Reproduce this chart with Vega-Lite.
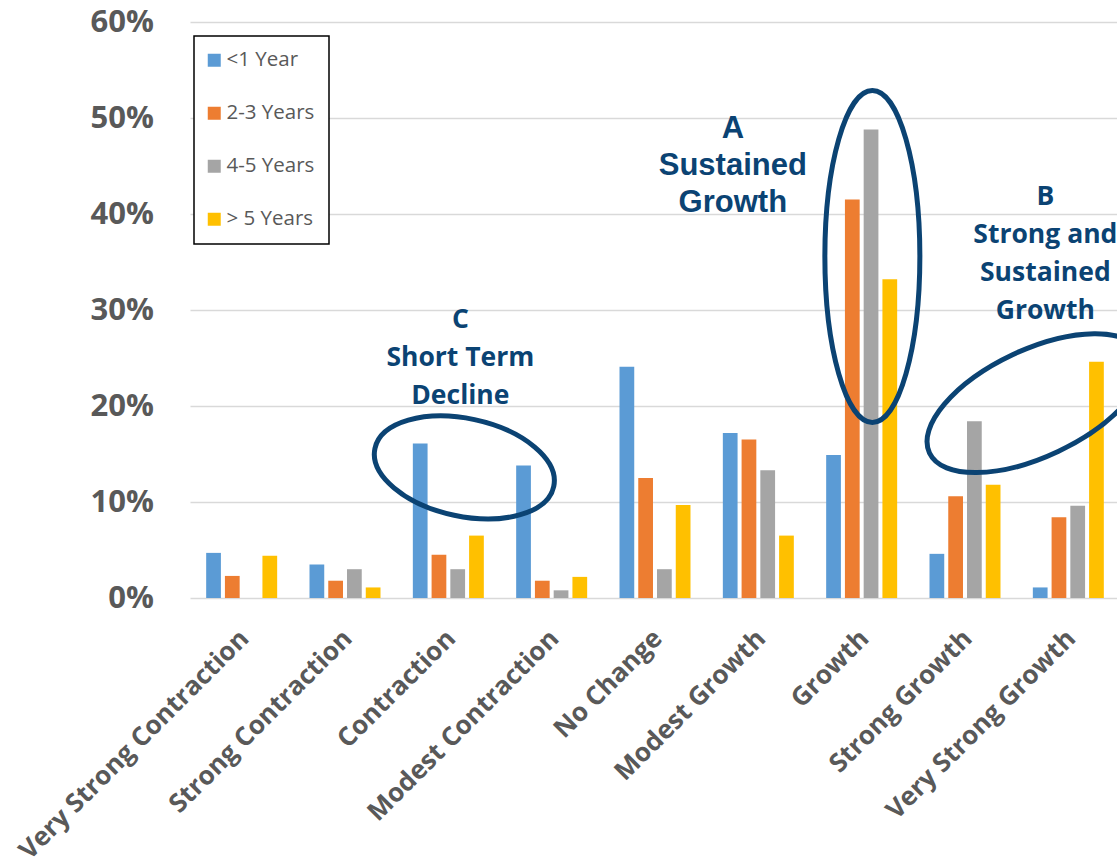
{
  "$schema": "https://vega.github.io/schema/vega-lite/v6.json",
  "autosize": {"type": "none"},
  "width": 927,
  "height": 576,
  "padding": {"left": 190, "top": 22, "right": 0, "bottom": 264},
  "background": "white",
  "config": {"view": {"stroke": null}, "font": "Open Sans"},
  "datasets": {
    "responses": [
      {"outlook": "Very Strong Contraction", "horizon": "<1 Year", "share": 0.047},
      {"outlook": "Very Strong Contraction", "horizon": "2-3 Years", "share": 0.023},
      {"outlook": "Very Strong Contraction", "horizon": "4-5 Years", "share": 0.0},
      {"outlook": "Very Strong Contraction", "horizon": "> 5 Years", "share": 0.044},
      {"outlook": "Strong Contraction", "horizon": "<1 Year", "share": 0.035},
      {"outlook": "Strong Contraction", "horizon": "2-3 Years", "share": 0.018},
      {"outlook": "Strong Contraction", "horizon": "4-5 Years", "share": 0.030},
      {"outlook": "Strong Contraction", "horizon": "> 5 Years", "share": 0.011},
      {"outlook": "Contraction", "horizon": "<1 Year", "share": 0.161},
      {"outlook": "Contraction", "horizon": "2-3 Years", "share": 0.045},
      {"outlook": "Contraction", "horizon": "4-5 Years", "share": 0.030},
      {"outlook": "Contraction", "horizon": "> 5 Years", "share": 0.065},
      {"outlook": "Modest Contraction", "horizon": "<1 Year", "share": 0.138},
      {"outlook": "Modest Contraction", "horizon": "2-3 Years", "share": 0.018},
      {"outlook": "Modest Contraction", "horizon": "4-5 Years", "share": 0.008},
      {"outlook": "Modest Contraction", "horizon": "> 5 Years", "share": 0.022},
      {"outlook": "No Change", "horizon": "<1 Year", "share": 0.241},
      {"outlook": "No Change", "horizon": "2-3 Years", "share": 0.125},
      {"outlook": "No Change", "horizon": "4-5 Years", "share": 0.030},
      {"outlook": "No Change", "horizon": "> 5 Years", "share": 0.097},
      {"outlook": "Modest Growth", "horizon": "<1 Year", "share": 0.172},
      {"outlook": "Modest Growth", "horizon": "2-3 Years", "share": 0.165},
      {"outlook": "Modest Growth", "horizon": "4-5 Years", "share": 0.133},
      {"outlook": "Modest Growth", "horizon": "> 5 Years", "share": 0.065},
      {"outlook": "Growth", "horizon": "<1 Year", "share": 0.149},
      {"outlook": "Growth", "horizon": "2-3 Years", "share": 0.415},
      {"outlook": "Growth", "horizon": "4-5 Years", "share": 0.488},
      {"outlook": "Growth", "horizon": "> 5 Years", "share": 0.332},
      {"outlook": "Strong Growth", "horizon": "<1 Year", "share": 0.046},
      {"outlook": "Strong Growth", "horizon": "2-3 Years", "share": 0.106},
      {"outlook": "Strong Growth", "horizon": "4-5 Years", "share": 0.184},
      {"outlook": "Strong Growth", "horizon": "> 5 Years", "share": 0.118},
      {"outlook": "Very Strong Growth", "horizon": "<1 Year", "share": 0.011},
      {"outlook": "Very Strong Growth", "horizon": "2-3 Years", "share": 0.084},
      {"outlook": "Very Strong Growth", "horizon": "4-5 Years", "share": 0.096},
      {"outlook": "Very Strong Growth", "horizon": "> 5 Years", "share": 0.246}
    ]
  },
  "layer": [
    {
      "data": {"name": "responses"},
      "mark": {"type": "bar"},
      "encoding": {
        "x": {
          "field": "outlook",
          "type": "nominal",
          "sort": ["Very Strong Contraction", "Strong Contraction", "Contraction", "Modest Contraction", "No Change", "Modest Growth", "Growth", "Strong Growth", "Very Strong Growth"],
          "scale": {"range": [0, 930], "paddingInner": 0.313, "paddingOuter": 0.1565},
          "title": null,
          "axis": {
            "domain": false,
            "ticks": false,
            "labelAngle": -45,
            "labelAlign": "right",
            "labelBaseline": "middle",
            "labelFont": "Open Sans",
            "labelFontSize": 26,
            "labelFontWeight": "bold",
            "labelColor": "#595959",
            "labelPadding": 36,
            "labelOffset": 3,
            "labelLimit": 600,
            "labelOverlap": false
          }
        },
        "xOffset": {
          "field": "horizon",
          "type": "nominal",
          "sort": ["<1 Year", "2-3 Years", "4-5 Years", "> 5 Years"],
          "scale": {"paddingInner": 0.214, "paddingOuter": 0}
        },
        "y": {
          "field": "share",
          "type": "quantitative",
          "scale": {"domain": [0, 0.6]},
          "title": null,
          "axis": {
            "format": ".0%",
            "values": [0, 0.1, 0.2, 0.3, 0.4, 0.5, 0.6],
            "domain": false,
            "ticks": false,
            "gridColor": "#D9D9D9",
            "gridWidth": 1.5,
            "labelFont": "Open Sans",
            "labelFontSize": 31,
            "labelFontWeight": "bold",
            "labelColor": "#595959",
            "labelPadding": 36.5
          }
        },
        "color": {
          "field": "horizon",
          "type": "nominal",
          "sort": ["<1 Year", "2-3 Years", "4-5 Years", "> 5 Years"],
          "scale": {
            "domain": ["<1 Year", "2-3 Years", "4-5 Years", "> 5 Years"],
            "range": ["#5B9BD5", "#ED7D31", "#A5A5A5", "#FFC000"]
          },
          "legend": {
            "orient": "none",
            "legendX": 4,
            "legendY": 14,
            "title": null,
            "direction": "vertical",
            "symbolType": "square",
            "symbolSize": 169,
            "symbolStrokeWidth": 0,
            "symbolOffset": -4,
            "labelFont": "Open Sans",
            "labelFontSize": 20.5,
            "labelColor": "#595959",
            "labelOffset": 2,
            "rowPadding": 32,
            "padding": 14,
            "strokeColor": "#000000",
            "fillColor": "#FFFFFF",
            "encode": {"legend": {"update": {"strokeWidth": {"value": 1.5}}}}
          }
        }
      }
    },
    {
      "data": {"values": [{"outlook": "Growth", "share": 0.3557}]},
      "mark": {
        "type": "point",
        "shape": "M 0.582 0 C 0.582 0.9168 0.3693 1.66 0.107 1.66 C -0.1553 1.66 -0.368 0.9168 -0.368 0 C -0.368 -0.9168 -0.1553 -1.66 0.107 -1.66 C 0.3693 -1.66 0.582 -0.9168 0.582 0 Z",
        "size": 40000,
        "filled": false,
        "opacity": 1,
        "stroke": "#0B4373",
        "strokeWidth": 5
      },
      "encoding": {
        "x": {"field": "outlook", "type": "nominal", "sort": ["Very Strong Contraction", "Strong Contraction", "Contraction", "Modest Contraction", "No Change", "Modest Growth", "Growth", "Strong Growth", "Very Strong Growth"]},
        "y": {"field": "share", "type": "quantitative", "scale": {"domain": [0, 0.6]}}
      }
    },
    {
      "data": {"values": [{"outlook": "Contraction", "share": 0.136}]},
      "mark": {
        "type": "point",
        "shape": "M 1.054 0.19 C 0.9978 0.4542 0.5521 0.5832 0.0583 0.4783 C -0.4355 0.3734 -0.7902 0.0742 -0.734 -0.19 C -0.6778 -0.4542 -0.2321 -0.5832 0.2617 -0.4783 C 0.7555 -0.3734 1.1102 -0.0742 1.054 0.19 Z",
        "size": 40000,
        "filled": false,
        "opacity": 1,
        "stroke": "#0B4373",
        "strokeWidth": 5
      },
      "encoding": {
        "x": {"field": "outlook", "type": "nominal", "sort": ["Very Strong Contraction", "Strong Contraction", "Contraction", "Modest Contraction", "No Change", "Modest Growth", "Growth", "Strong Growth", "Very Strong Growth"]},
        "y": {"field": "share", "type": "quantitative", "scale": {"domain": [0, 0.6]}}
      }
    },
    {
      "data": {"values": [{"outlook": "Very Strong Growth", "share": 0.203}]},
      "mark": {
        "type": "point",
        "shape": "M 0.7286 -0.4982 C 0.8544 -0.2308 0.4825 0.2089 -0.1022 0.4841 C -0.6869 0.7593 -1.2628 0.7656 -1.3886 0.4982 C -1.5144 0.2308 -1.1425 -0.2089 -0.5578 -0.4841 C 0.0269 -0.7593 0.6028 -0.7656 0.7286 -0.4982 Z",
        "size": 40000,
        "filled": false,
        "opacity": 1,
        "stroke": "#0B4373",
        "strokeWidth": 5
      },
      "encoding": {
        "x": {"field": "outlook", "type": "nominal", "sort": ["Very Strong Contraction", "Strong Contraction", "Contraction", "Modest Contraction", "No Change", "Modest Growth", "Growth", "Strong Growth", "Very Strong Growth"]},
        "y": {"field": "share", "type": "quantitative", "scale": {"domain": [0, 0.6]}}
      }
    },
    {
      "data": {"values": [{"outlook": "Modest Growth", "share": 0.4795, "note": "A\nSustained\nGrowth"}]},
      "mark": {
        "type": "text",
        "font": "Liberation Sans",
        "fontWeight": "bold",
        "fontSize": 31,
        "lineHeight": 37,
        "lineBreak": "\n",
        "align": "center",
        "baseline": "alphabetic",
        "dx": -25.5,
        "color": "#0B4373"
      },
      "encoding": {
        "x": {"field": "outlook", "type": "nominal", "sort": ["Very Strong Contraction", "Strong Contraction", "Contraction", "Modest Contraction", "No Change", "Modest Growth", "Growth", "Strong Growth", "Very Strong Growth"]},
        "y": {"field": "share", "type": "quantitative", "scale": {"domain": [0, 0.6]}},
        "text": {"field": "note", "type": "nominal"}
      }
    },
    {
      "data": {"values": [{"outlook": "Contraction", "share": 0.281, "note": "C\nShort Term\nDecline"}]},
      "mark": {
        "type": "text",
        "font": "Open Sans",
        "fontWeight": "bold",
        "fontSize": 26.5,
        "lineHeight": 38,
        "lineBreak": "\n",
        "align": "center",
        "baseline": "alphabetic",
        "dx": 12,
        "color": "#0B4373"
      },
      "encoding": {
        "x": {"field": "outlook", "type": "nominal", "sort": ["Very Strong Contraction", "Strong Contraction", "Contraction", "Modest Contraction", "No Change", "Modest Growth", "Growth", "Strong Growth", "Very Strong Growth"]},
        "y": {"field": "share", "type": "quantitative", "scale": {"domain": [0, 0.6]}},
        "text": {"field": "note", "type": "nominal"}
      }
    },
    {
      "data": {"values": [{"outlook": "Very Strong Growth", "share": 0.4094, "note": "B\nStrong and\nSustained\nGrowth"}]},
      "mark": {
        "type": "text",
        "font": "Open Sans",
        "fontWeight": "bold",
        "fontSize": 26.5,
        "lineHeight": 38,
        "lineBreak": "\n",
        "align": "center",
        "baseline": "alphabetic",
        "dx": -23,
        "color": "#0B4373"
      },
      "encoding": {
        "x": {"field": "outlook", "type": "nominal", "sort": ["Very Strong Contraction", "Strong Contraction", "Contraction", "Modest Contraction", "No Change", "Modest Growth", "Growth", "Strong Growth", "Very Strong Growth"]},
        "y": {"field": "share", "type": "quantitative", "scale": {"domain": [0, 0.6]}},
        "text": {"field": "note", "type": "nominal"}
      }
    }
  ]
}
